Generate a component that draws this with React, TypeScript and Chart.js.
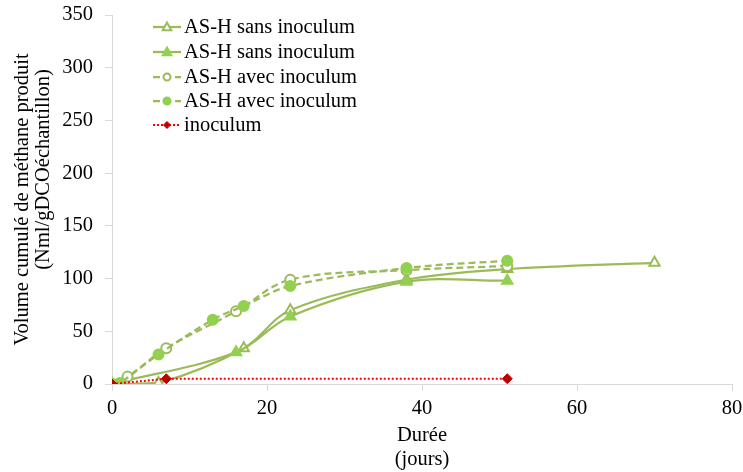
import React, { useEffect, useRef } from "react";
import { Chart, registerables } from "chart.js";

Chart.register(...registerables);

const FONT = "'Liberation Serif', 'Times New Roman', Times, serif";
const FS = 20.5;

const seriesLabels = [
  "AS-H sans inoculum",
  "AS-H sans inoculum",
  "AS-H avec inoculum",
  "AS-H avec inoculum",
  "inoculum",
];

const sansInoculum1X = [0, 6, 17, 23, 38, 51, 70];
const sansInoculum1Y = [0, 1, 34, 70, 99, 109, 115];

const sansInoculum2X = [0, 16, 23, 38, 51];
const sansInoculum2Y = [0, 30, 64, 97, 98];

const avecInoculum1X = [0, 2, 7, 16, 23, 38, 51];
const avecInoculum1Y = [0, 7, 34, 69, 99, 108, 112];

const avecInoculum2X = [0, 1, 6, 13, 17, 23, 38, 51];
const avecInoculum2Y = [0, 1, 28, 61, 74, 93, 110, 117];

const inoculumX = [0, 7, 51];
const inoculumY = [0, 5, 5];

const xTicks = [0, 20, 40, 60, 80];
const yTicks = [0, 50, 100, 150, 200, 250, 300, 350];

const xTitle = ["Durée", "(jours)"];
const yTitle = ["Volume cumulé de méthane produit", "(Nml/gDCOéchantillon)"];

const GREEN = "#9BBB59";
const LIME = "#92D050";

function pts(xs: number[], ys: number[]) {
  return xs.map((x, i) => ({ x, y: ys[i] }));
}

function drawMarker(ctx: CanvasRenderingContext2D, style: string, x: number, y: number, r: number, fill: string, stroke: string, bw: number) {
  ctx.save();
  ctx.beginPath();
  if (style === "triangle") {
    ctx.moveTo(x, y - r);
    ctx.lineTo(x + r * 0.95, y + r * 0.7);
    ctx.lineTo(x - r * 0.95, y + r * 0.7);
    ctx.closePath();
  } else if (style === "circle") {
    ctx.arc(x, y, r, 0, Math.PI * 2);
  } else if (style === "rectRot") {
    ctx.moveTo(x, y - r);
    ctx.lineTo(x + r, y);
    ctx.lineTo(x, y + r);
    ctx.lineTo(x - r, y);
    ctx.closePath();
  }
  ctx.fillStyle = fill;
  ctx.fill();
  ctx.lineWidth = bw;
  ctx.strokeStyle = stroke;
  ctx.stroke();
  ctx.restore();
}

const legendPlugin = {
  id: "customLegend",
  afterDraw(chart: any) {
    const ctx: CanvasRenderingContext2D = chart.ctx;
    const ds = chart.data.datasets;
    const x0 = 153;
    const x1 = 181;
    const rowY = [27, 52, 77, 101, 125];
    ctx.save();
    ds.forEach((d: any, i: number) => {
      const y = rowY[i];
      ctx.beginPath();
      ctx.setLineDash(d.borderDash || []);
      ctx.strokeStyle = d.borderColor;
      ctx.lineWidth = d.borderWidth;
      ctx.moveTo(x0, y);
      ctx.lineTo(x1, y);
      ctx.stroke();
      ctx.setLineDash([]);
      drawMarker(ctx, d.pointStyle, (x0 + x1) / 2, y, d.pointStyle === "triangle" ? 4.5 : 3.5, d.pointBackgroundColor, d.pointBorderColor, d.pointBorderWidth);
      ctx.fillStyle = "#000";
      ctx.font = `${FS}px ${FONT}`;
      ctx.textAlign = "left";
      ctx.textBaseline = "middle";
      ctx.fillText(d.label, 184, y + 1);
    });
    ctx.restore();
  },
};

const titlePlugin = {
  id: "axisTitles",
  afterDraw(chart: any) {
    const ctx: CanvasRenderingContext2D = chart.ctx;
    const a = chart.chartArea;
    ctx.save();
    ctx.fillStyle = "#000";
    ctx.font = `${FS}px ${FONT}`;
    ctx.textAlign = "center";
    ctx.textBaseline = "middle";
    const cx = (a.left + a.right) / 2;
    ctx.fillText(xTitle[0], cx, 436);
    ctx.fillText(xTitle[1], cx, 460);
    const cy = (a.top + a.bottom) / 2;
    ctx.translate(23, cy);
    ctx.rotate(-Math.PI / 2);
    ctx.fillText(yTitle[0], 0, 0);
    ctx.fillText(yTitle[1], 30, 21);
    ctx.restore();
  },
};

export default function App() {
  const ref = useRef<HTMLCanvasElement | null>(null);
  useEffect(() => {
    if (!ref.current) return;
    const common = { borderWidth: 2.25, tension: 0.35, showLine: true, pointBorderWidth: 2 };
    const chart = new Chart(ref.current, {
      type: "scatter",
      data: {
        datasets: [
          {
            ...common,
            label: seriesLabels[0],
            data: pts(sansInoculum1X, sansInoculum1Y),
            borderColor: GREEN,
            backgroundColor: "#fff",
            pointStyle: "triangle",
            pointRadius: 6,
            pointBackgroundColor: "#fff",
            pointBorderColor: GREEN,
            order: 5,
          },
          {
            ...common,
            label: seriesLabels[1],
            data: pts(sansInoculum2X, sansInoculum2Y),
            borderColor: GREEN,
            backgroundColor: LIME,
            pointStyle: "triangle",
            pointRadius: 6,
            pointBackgroundColor: LIME,
            pointBorderColor: LIME,
            order: 4,
          },
          {
            ...common,
            label: seriesLabels[2],
            data: pts(avecInoculum1X, avecInoculum1Y),
            borderColor: GREEN,
            borderDash: [7, 4],
            backgroundColor: "#fff",
            pointStyle: "circle",
            pointRadius: 5,
            pointBackgroundColor: "#fff",
            pointBorderColor: GREEN,
            order: 3,
          },
          {
            ...common,
            label: seriesLabels[3],
            data: pts(avecInoculum2X, avecInoculum2Y),
            borderColor: GREEN,
            borderDash: [7, 4],
            backgroundColor: LIME,
            pointStyle: "circle",
            pointRadius: 5,
            pointBackgroundColor: LIME,
            pointBorderColor: LIME,
            order: 2,
          },
          {
            ...common,
            label: seriesLabels[4],
            data: pts(inoculumX, inoculumY),
            borderColor: "#FF0000",
            borderWidth: 2,
            borderDash: [2, 2],
            tension: 0,
            backgroundColor: "#C00000",
            pointStyle: "rectRot",
            pointRadius: 5,
            pointBackgroundColor: "#C00000",
            pointBorderColor: "#C00000",
            pointBorderWidth: 1,
            order: 1,
          },
        ],
      },
      options: {
        animation: false,
        responsive: true,
        maintainAspectRatio: false,
        layout: { padding: { top: 15, right: 11, left: 0, bottom: 0 } },
        plugins: { legend: { display: false }, tooltip: { enabled: false } },
        scales: {
          x: {
            type: "linear",
            min: 0,
            max: 80,
            afterBuildTicks: (s: any) => {
              s.ticks = xTicks.map((v) => ({ value: v }));
            },
            afterFit: (s: any) => {
              s.height = 88;
              s.paddingLeft = 0;
              s.paddingRight = 0;
            },
            grid: { drawOnChartArea: false, drawTicks: true, tickLength: 7, color: "#D9D9D9" },
            border: { color: "#D9D9D9", width: 1 },
            ticks: { color: "#000", font: { family: FONT, size: FS }, padding: 5, maxRotation: 0 },
          },
          y: {
            type: "linear",
            min: 0,
            max: 350,
            afterBuildTicks: (s: any) => {
              s.ticks = yTicks.map((v) => ({ value: v }));
            },
            afterFit: (s: any) => {
              s.width = 112;
              s.paddingTop = 0;
              s.paddingBottom = 0;
            },
            grid: { drawOnChartArea: false, drawTicks: true, tickLength: 7, color: "#D9D9D9" },
            border: { color: "#D9D9D9", width: 1 },
            ticks: { color: "#000", font: { family: FONT, size: FS }, padding: 12 },
          },
        },
      },
      plugins: [legendPlugin, titlePlugin],
    } as any);
    let alive = true;
    const fonts = (document as any).fonts;
    if (fonts && fonts.load) {
      fonts
        .load(`${FS}px 'Liberation Serif'`)
        .then(() => fonts.ready)
        .then(() => {
          if (alive) chart.update();
        })
        .catch(() => {});
    }
    return () => {
      alive = false;
      chart.destroy();
    };
  }, []);
  return (
    <div style={{ position: "absolute", left: 0, top: 0, width: 743, height: 472, background: "#fff" }}>
      <canvas ref={ref} />
    </div>
  );
}
